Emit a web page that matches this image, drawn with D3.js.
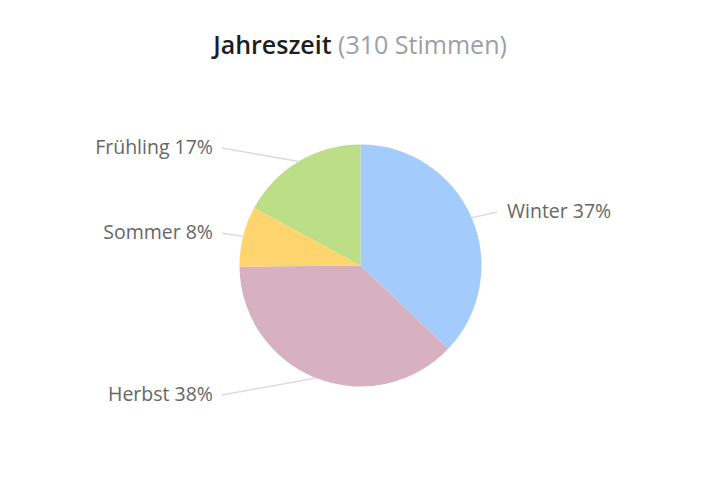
<!DOCTYPE html>
<html>
<head>
<meta charset="utf-8">
<script src="https://cdn.jsdelivr.net/npm/d3@7"></script>
<style>
  body { margin: 0; background: #fff; }
  svg { font-family: "Open Sans", sans-serif; }
</style>
</head>
<body>
<div id="chart"></div>
<script>
var seasons = ["Winter", "Herbst", "Sommer", "Frühling"];
var votes = [115, 117, 25, 53];
var colors = ["#a3cbfb", "#d7b1bf", "#fed46f", "#bbde86"];
var titleMain = "Jahreszeit";
var titleSub = "(310 Stimmen)";

var width = 720;
var height = 498;
var cx = 360.5, cy = 265.5, radius = 121;
var labelRadius = 138;

var svg = d3.select("#chart")
    .append("svg")
    .attr("width", width)
    .attr("height", height);

// title
var title = svg.append("text")
    .attr("x", width / 2)
    .attr("y", 54)
    .attr("text-anchor", "middle")
    .style("font-size", "25px");
title.append("tspan").text(titleMain).attr("font-weight", 600).attr("fill", "#1e1e1e");
title.append("tspan").text(" " + titleSub).attr("fill", "#9aa0a6");

var total = d3.sum(votes);
var data = seasons.map(function (s, i) {
    return { name: s, value: votes[i], color: colors[i] };
});

var pie = d3.pie().sort(null).value(function (d) { return d.value; });
var arc = d3.arc().innerRadius(0).outerRadius(radius);
var arcs = pie(data);

var g = svg.append("g").attr("transform", "translate(" + cx + "," + cy + ")");

g.selectAll(".slice")
    .data(arcs)
    .enter()
    .append("path")
    .attr("class", "slice")
    .attr("d", arc)
    .attr("fill", function (d) { return d.data.color; });

// label positions
arcs.forEach(function (d) {
    var a = (d.startAngle + d.endAngle) / 2;
    d.edge = [radius * Math.sin(a), -radius * Math.cos(a)];
    d.right = Math.sin(a) > 0;
    d.ly = -labelRadius * Math.cos(a);
    d.lx = d.right ? 146.5 : -147.5;
});

g.selectAll(".leader")
    .data(arcs)
    .enter()
    .append("polyline")
    .attr("class", "leader")
    .attr("points", function (d) {
        var sx = d.right ? d.lx - 10 : d.lx + 9;
        return [[sx, d.ly + 1], [d.edge[0], d.edge[1]]].map(function (p) { return p.join(","); }).join(" ");
    })
    .attr("fill", "none")
    .attr("stroke", "#dcdcdc")
    .attr("stroke-width", 1.5);

g.selectAll(".label")
    .data(arcs)
    .enter()
    .append("text")
    .attr("class", "label")
    .attr("x", function (d) { return d.lx; })
    .attr("y", function (d) { return d.ly; })
    .attr("dy", "0.35em")
    .attr("text-anchor", function (d) { return d.right ? "start" : "end"; })
    .attr("fill", "#666")
    .style("font-size", "19.5px")
    .text(function (d) {
        return d.data.name + " " + Math.round(d.value / total * 100) + "%";
    });
</script>
</body>
</html>
